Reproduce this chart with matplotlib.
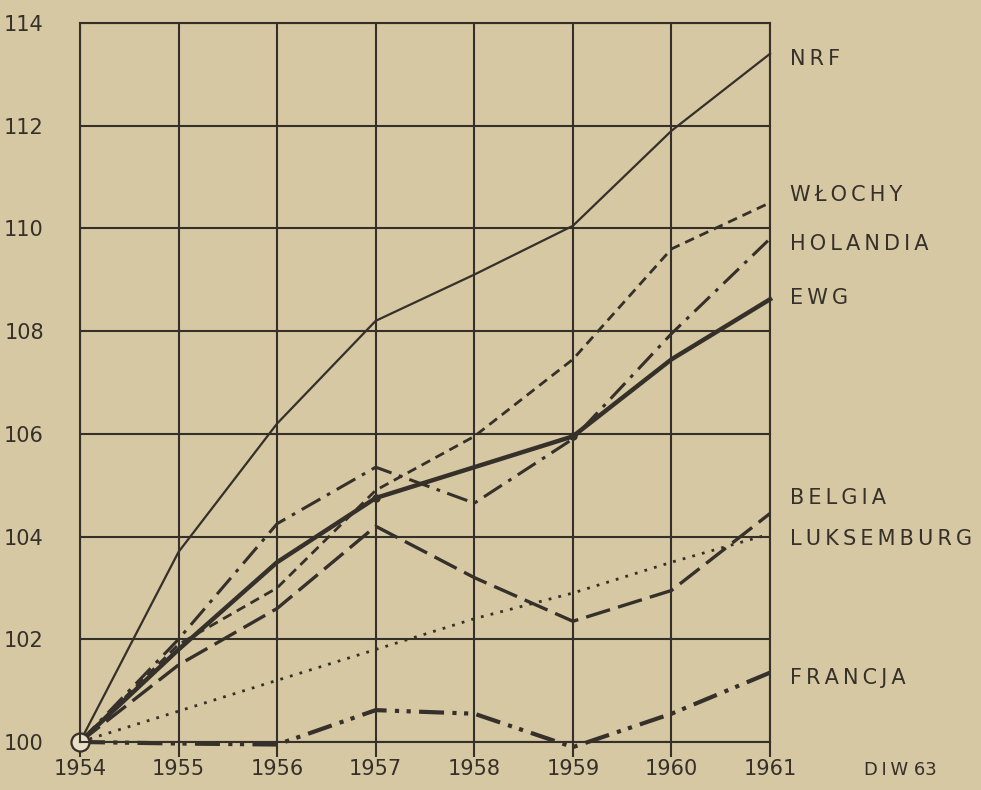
import numpy as np
import matplotlib.pyplot as plt

# lata i wskazniki (1954 = 100)
lata = [1954, 1955, 1956, 1957, 1958, 1959, 1960, 1961]
nrf = [100, 103.7, 106.2, 108.2, 109.1, 110.05, 111.9, 113.4]
wlochy = [100, 101.9, 103.0, 104.9, 105.95, 107.45, 109.6, 110.5]
holandia = [100, 102.0, 104.25, 105.35, 104.65, 105.9, 107.95, 109.8]
ewg = [100, 101.8, 103.5, 104.75, 105.35, 105.95, 107.45, 108.62]
belgia = [100, 101.5, 102.6, 104.2, 103.2, 102.35, 102.95, 104.45]
luksemburg = [100, 100.6, 101.2, 101.8, 102.4, 102.9, 103.5, 104.05]
francja = [100, 99.97, 99.95, 100.62, 100.55, 99.9, 100.55, 101.35]

etykiety = ['NRF', 'WŁOCHY', 'HOLANDIA', 'EWG', 'BELGIA', 'LUKSEMBURG', 'FRANCJA']
etykiety_y = [113.3, 110.65, 109.7, 108.65, 104.75, 103.95, 101.25]

tlo = '#d6c8a2'
kolor = '#35302a'

plt.rcParams['font.family'] = ['DejaVu Sans']


def rozstaw(s):
    # szerokie odstepy miedzy literami jak w oryginale
    return '\u2009'.join(s)


fig = plt.figure(figsize=(9.81, 7.9), dpi=100, facecolor=tlo)
ax = fig.add_axes([0.0815, 0.0608, 0.7035, 0.9102])
ax.set_facecolor(tlo)

ax.set_xlim(1954, 1961)
ax.set_ylim(100, 114)
ax.set_xticks(lata)
ax.set_yticks(np.arange(100, 115, 2))
ax.grid(True, color=kolor, lw=1.5)
for s in ax.spines.values():
    s.set_color(kolor)
    s.set_linewidth(1.5)
ax.tick_params(axis='x', direction='out', length=11, width=1.5, color=kolor,
               labelsize=15, labelcolor=kolor, pad=1)
ax.tick_params(axis='y', length=0, labelsize=15, labelcolor=kolor, pad=26)

ax.plot(lata, nrf, color=kolor, lw=1.6, clip_on=False)
ax.plot(lata, wlochy, color=kolor, lw=2.0, ls=(0, (3.5, 2.2)), clip_on=False)
ax.plot(lata, holandia, color=kolor, lw=2.2, ls=(0, (7, 2.5, 1.2, 2.5)), clip_on=False)
ax.plot(lata, ewg, color=kolor, lw=3.2, clip_on=False)
ax.plot(lata, belgia, color=kolor, lw=2.4, ls=(0, (7.5, 2.5)), clip_on=False)
ax.plot(lata, luksemburg, color=kolor, lw=2.0, ls=(0, (1, 2.6)), clip_on=False)
ax.plot(lata, francja, color=kolor, lw=3.0, ls=(0, (6, 2, 1, 1.8, 1, 2)), clip_on=False)

ax.plot([lata[3], lata[5]], [ewg[3], ewg[5]], 'o', ms=5, color=kolor)
ax.plot([lata[0]], [100], 'o', ms=13, mfc='#e8dfc6', mec=kolor, mew=1.6, clip_on=False)

for t, yv in zip(etykiety, etykiety_y):
    ax.text(1961.2, yv, rozstaw(t), fontsize=15, color=kolor, va='center', ha='left')

ax.text(1962.32, 99.45, rozstaw('DIW') + ' 63', fontsize=13, color=kolor,
        va='center', ha='center')

fig.savefig('out.png', dpi=100, facecolor=tlo)
